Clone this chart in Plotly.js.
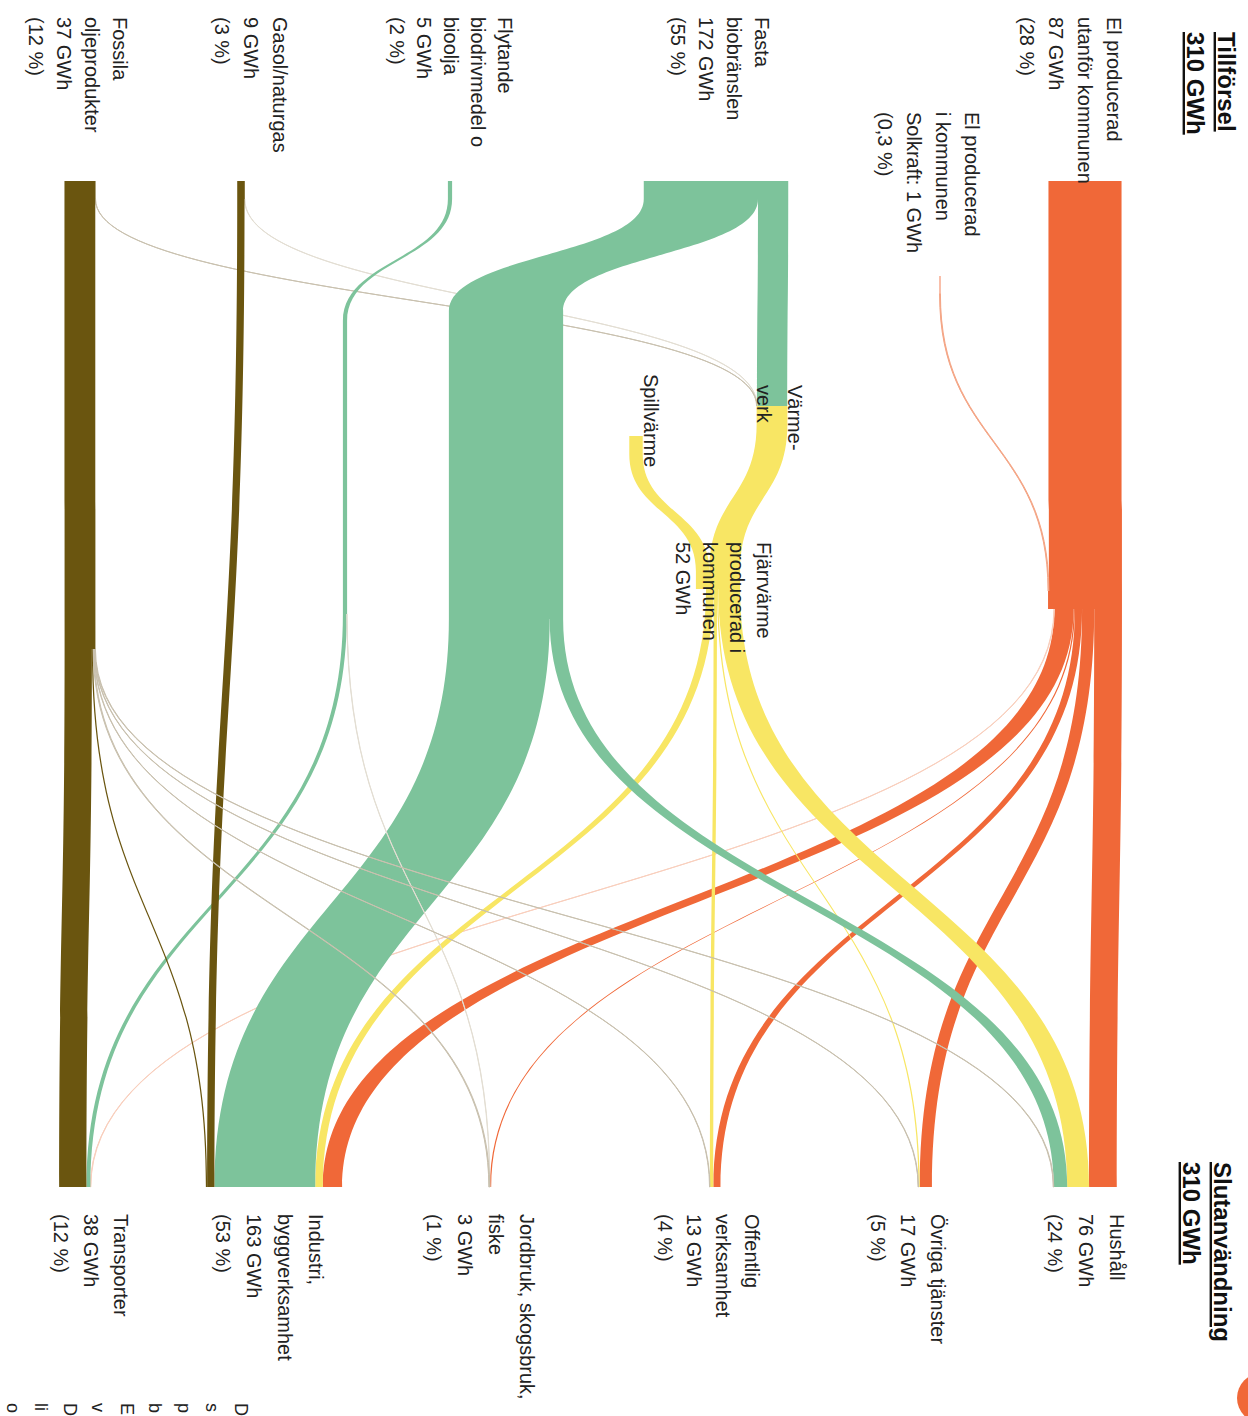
<!DOCTYPE html>
<html><head><meta charset="utf-8">
<script src="https://cdn.plot.ly/plotly-3.0.1.min.js"></script>
<style>
html,body{margin:0;padding:0;background:#fff;overflow:hidden;}
#wrap{position:relative;width:1248px;height:1416px;overflow:hidden;background:#fff;}
#chart{position:absolute;left:0;top:0;width:1416px;height:1248px;transform-origin:0 0;transform:translate(1248px,0) rotate(90deg);}
</style></head><body>
<div id="wrap"><div id="chart"></div></div>
<script>
// ---------------- DATA ----------------
const nodeNames = [
  "El producerad utanför kommunen", "El producerad i kommunen", "Fasta biobränslen",
  "Flytande biodrivmedel o bioolja", "Gasol/naturgas", "Fossila oljeprodukter",
  "Spillvärme", "El", "Värmeverk", "Fjärrvärme producerad i kommunen",
  "Hushåll", "Övriga tjänster", "Offentlig verksamhet", "Jordbruk, skogsbruk, fiske",
  "Industri, byggverksamhet", "Transporter",
  "Fasta biobränslen (vidare)", "Fasta biobränslen (fördelning)",
  "Flytande (vidare)", "Flytande (fördelning)", "Fossila (fördelning)"
];
const nodeLabels = [
  "El producerad<br>utanför kommunen<br>87 GWh<br>(28 %)",
  "El producerad<br>i kommunen<br>Solkraft: 1 GWh<br>(0,3 %)",
  "Fasta<br>biobränslen<br>172 GWh<br>(55 %)",
  "Flytande<br>biodrivmedel o<br>bioolja<br>5 GWh<br>(2 %)",
  "Gasol/naturgas<br>9 GWh<br>(3 %)",
  "Fossila<br>oljeprodukter<br>37 GWh<br>(12 %)",
  "Spillvärme",
  "",
  "Värme-<br>verk",
  "Fjärrvärme<br>producerad i<br>kommunen<br>52 GWh",
  "Hushåll<br>76 GWh<br>(24 %)",
  "Övriga tjänster<br>17 GWh<br>(5 %)",
  "Offentlig<br>verksamhet<br>13 GWh<br>(4 %)",
  "Jordbruk, skogsbruk,<br>fiske<br>3 GWh<br>(1 %)",
  "Industri,<br>byggverksamhet<br>163 GWh<br>(53 %)",
  "Transporter<br>38 GWh<br>(12 %)",
  "", "", "", "", ""
];
const headingLeft = ["Tillförsel", "310 GWh"];
const headingRight = ["Slutanvändning", "310 GWh"];
const sideTextStarts = ["D", "s", "p", "b", "E", "v", "D", "li", "o"];

// links (GWh)
const linkSource = [0, 1, 2, 4, 5, 8, 6,
                    7, 7, 7, 7, 7, 7,
                    9, 9, 9, 9,
                    2, 16, 17, 17,
                    3, 18, 19, 19,
                    4,
                    5, 20, 20, 20, 20, 20, 20];
const linkTarget = [7, 7, 8, 8, 8, 9, 9,
                    10, 11, 12, 13, 14, 15,
                    10, 11, 12, 14,
                    16, 17, 10, 14,
                    18, 19, 15, 13,
                    14,
                    20, 15, 14, 13, 12, 11, 10];
const linkValue  = [87, 1, 36, 0.3, 0.3, 36.6, 16,
                    33, 14.5, 8.5, 1.5, 23, 0.5,
                    26, 1.5, 4, 9,
                    136, 136, 16, 120,
                    5, 5, 4.7, 0.3,
                    8.7,
                    36.7, 32.5, 1.5, 1, 0.5, 0.5, 0.7];

// ---------------- STYLE / LAYOUT ----------------
const C = {or:'#f06838', orL:'#f4a585', orF:'#f9cfbd', gr:'#7dc39b', ye:'#f8e664', br:'#6a550f',
           grey:'#c9c1af', greyF:'#e3ded3', none:'rgba(0,0,0,0)'};
const nodeColor = [C.or, C.or, C.gr, C.gr, C.br, C.br, C.ye, C.or, C.ye, C.ye,
                   C.none, C.none, C.none, C.none, C.none, C.none,
                   C.gr, C.gr, C.gr, C.gr, C.br];
const linkColor = [C.or, C.orL, C.gr, C.greyF, C.grey, C.ye, C.ye,
                   C.or, C.or, C.or, C.or, C.or, C.orF,
                   C.ye, C.ye, C.ye, C.ye,
                   C.gr, C.gr, C.gr, C.gr,
                   C.gr, C.gr, C.gr, C.greyF,
                   C.br,
                   C.br, C.br, C.br, C.grey, C.grey, C.grey, C.grey];

const W = 1416, H = 1248;           // unrotated plot size (turned 90deg by CSS)
// node centres in picture coordinates: [picture y (flow direction), picture x (across)]
const nodePos = [[190,1085],[285,940],[190,716],[190,450],[190,241],[190,80],[445,636],[600,1085],[415,772],[580,718],
                 [1196,1085],[1196,925],[1196,715],[1196,490],[1196,274],[1196,75],
                 [320,506],[610,506],[330,345],[605,345],[640,80]];
// label positions: [left edge picture y, first line centre picture x, line step]
const labelPos = [[15,1114,29],[110,972,29],[15,762,28],[15,505,27],[15,280,29],[15,120,28],[372,651,0],null,[383,795,31],[540,764,27],
                  [1212,1117,31],[1212,938,30],[1212,752,29],[1212,527,31],[1212,316,31],[1212,121,30]];

// scale: ~0.84 px per GWh. Plotly caps node padding at 2/3 of the domain height,
// so the domain height is chosen to give this scale; nodes are then placed freely.
const KY = 0.84;
const inSum = nodeNames.map((_, i) => linkValue.filter((v, k) => linkTarget[k] === i).reduce((a, b) => a + b, 0));
const outSum = nodeNames.map((_, i) => linkValue.filter((v, k) => linkSource[k] === i).reduce((a, b) => a + b, 0));
const sources = nodeNames.map((_, i) => i).filter(i => inSum[i] === 0);
const srcTotal = sources.reduce((a, i) => a + outSum[i], 0);
const Hd = 3 * KY * srcTotal;
const frac = Hd / H;
const domY0 = (1 - frac) / 2;
const topYp = (1 - (domY0 + frac)) * H;   // domain top in unrotated px (from top)

const trace = {
  type: 'sankey',
  orientation: 'h',
  arrangement: 'fixed',
  domain: {x: [0, 1], y: [domY0, domY0 + frac]},
  hoverinfo: 'none',
  node: {
    label: nodeNames.map(() => ''),
    customdata: nodeNames,
    color: nodeColor,
    thickness: 18,
    pad: 600,
    line: {width: 0},
    x: nodePos.map(p => p[0] / W),
    y: nodePos.map(p => ((H - p[1]) - topYp) / Hd),
    hoverinfo: 'none'
  },
  link: {
    source: linkSource,
    target: linkTarget,
    value: linkValue,
    color: linkColor,
    line: {width: 0},
    hoverinfo: 'none'
  }
};

const bodyFont = {family: 'Liberation Sans, Arial, sans-serif', size: 20, color: '#222'};
const headFont = {family: 'Liberation Sans, Arial, sans-serif', size: 24, color: '#111'};
const annotations = [];
function addLines(lines, p, font, wrap) {
  lines.forEach((t, i) => {
    annotations.push({
      xref: 'paper', yref: 'paper', x: p[0] / W, y: (p[1] - i * p[2]) / H,
      xanchor: 'left', yanchor: 'middle', showarrow: false,
      text: wrap ? wrap(t) : t, font: font
    });
  });
}
nodeLabels.forEach((lab, i) => { if (labelPos[i] && lab) addLines(lab.split('<br>'), labelPos[i], bodyFont); });
const u = t => '<b><span style="text-decoration:underline">' + t + '</span></b>';
addLines(headingLeft, [30, 1227, 32], headFont, u);
addLines(headingRight, [1160, 1223, 32], headFont, u);
addLines(sideTextStarts, [1401, 241, 28.5], {family: 'Liberation Sans, Arial, sans-serif', size: 18, color: '#222'});

const layout = {
  width: W, height: H,
  margin: {l: 0, r: 0, t: 0, b: 0},
  paper_bgcolor: '#fff',
  font: bodyFont,
  annotations: annotations,
  shapes: [{type: 'circle', xref: 'paper', yref: 'paper', x0: 1373 / W, x1: 1423 / W, y0: 1237 / H, y1: 1287 / H,
            fillcolor: C.or, line: {width: 0}}]
};
Plotly.newPlot('chart', [trace], layout, {displayModeBar: false, staticPlot: true});
</script>
</body></html>
